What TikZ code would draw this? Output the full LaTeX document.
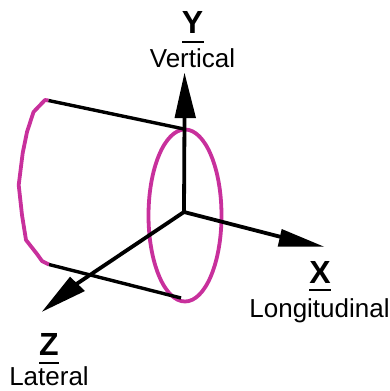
\documentclass[tikz,border=0pt]{standalone}
\usepackage{fontspec}
\setmainfont{Liberation Sans}
\definecolor{mag}{HTML}{C8309C}
\tikzset{
  axisline/.style={line width=3.8pt,black},
  edgeline/.style={line width=3.4pt,black},
  headfill/.style={fill=black,draw=none},
  curveline/.style={line width=3.8pt,mag,line join=round},
  rulebar/.style={line width=2.4pt,black},
  titletext/.style={font=\fontsize{32}{32}\selectfont\bfseries,anchor=base,inner sep=0pt},
  subtext/.style={font=\fontsize{26}{26}\selectfont,anchor=base,inner sep=0pt},
}
\begin{document}
\begin{tikzpicture}[x=1pt,y=-1pt]
\useasboundingbox (0,0) rectangle (390,391);
\coordinate (o) at (184,212);
\coordinate (ytip) at (184.5,73);
\coordinate (xtip) at (324,246.7);
\coordinate (ztip) at (42,311.7);
\coordinate (tl) at (48.5,100.5);
\coordinate (tr) at (184,129);
\coordinate (bl) at (49,264.5);
\coordinate (br) at (181,298);
% ellipse and left curve
\draw[curveline] (185,215.5) ellipse [x radius=36.5,y radius=86];
\draw[curveline] (tl) -- (45,100) -- (33.5,112) -- (27,132) -- (22.7,153) -- (18.7,185) -- (22,215) -- (26,240) -- (37,254) -- (42,261) -- (bl);
% edges
\draw[edgeline] (tl) -- (tr);
\draw[edgeline] (bl) -- (br);
% axes
\draw[axisline] (o) -- (184.5,118);
\draw[axisline,line join=miter] (o) -- (285,238);
\draw[axisline] (o) -- (75,285);
\fill[headfill] (ytip) -- (196,118) -- (174.5,118) -- cycle;
\fill[headfill] (xtip) -- (281.7,229) -- (277.7,246.7) -- cycle;
\fill[headfill] (ztip) -- (70,276.7) -- (85,291) -- cycle;
% labels
\node[titletext] (ylab) at (192.5,33.5) {Y};
\coordinate (yra) at (182,42); \coordinate (yrb) at (204,42);
\draw[rulebar] (yra) -- (yrb);
\node[subtext] (ysub) at (192.5,67) {Vertical};
\node[titletext] (xlab) at (320,283) {X};
\coordinate (xra) at (309,289.7); \coordinate (xrb) at (331,289.7);
\draw[rulebar] (xra) -- (xrb);
\node[subtext] (xsub) at (319.5,317) {Longitudinal};
\node[titletext] (zlab) at (49,355) {Z};
\coordinate (zra) at (39,362.7); \coordinate (zrb) at (59,362.7);
\draw[rulebar] (zra) -- (zrb);
\node[subtext] (zsub) at (49,385) {Lateral};
\end{tikzpicture}
\end{document}
